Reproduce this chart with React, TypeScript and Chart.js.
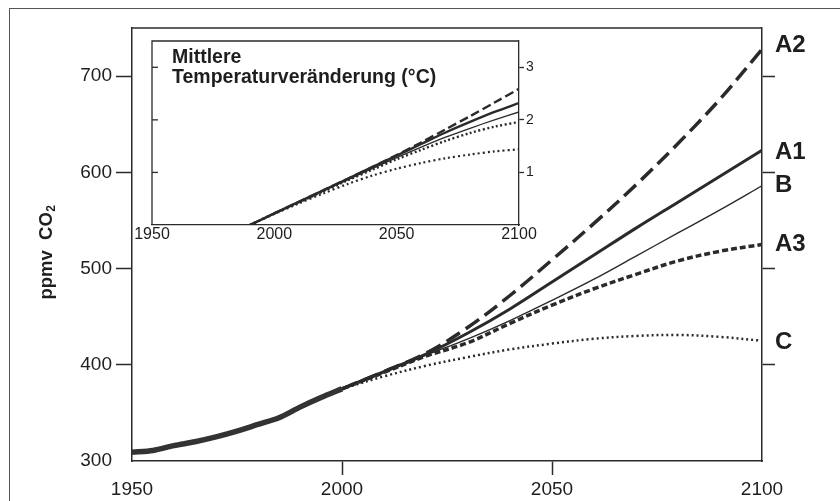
import React, { useEffect, useRef } from 'react';
import { Chart, registerables } from 'chart.js';

Chart.register(...registerables);

// ---------- data ----------
const histYears = [1950, 1955, 1960, 1965, 1970, 1975, 1980, 1985, 1990, 1995, 2000];
const histCO2 = [309, 311, 316, 320, 325, 331, 338, 345, 356, 366, 375];

const scenYears = [2000, 2010, 2020, 2030, 2040, 2050, 2060, 2070, 2080, 2090, 2100];
const co2A2 = [375, 393, 412, 439, 472, 509, 547, 587, 630, 676, 728];
const co2A1 = [375, 393, 411, 433, 458, 486, 514, 542, 569, 596, 623];
const co2B = [375, 392, 410, 427, 446, 467, 489, 513, 537, 561, 586];
const co2A3 = [375, 392, 409, 423, 443, 462, 479, 494, 508, 518, 525];
const co2C = [375, 388, 399, 408, 416, 422, 427, 430, 431, 429, 425];

const scenarioNames = ['A2', 'A1', 'B', 'A3', 'C'];

const insetYears = [1990, 2000, 2010, 2020, 2030, 2040, 2050, 2060, 2070, 2080, 2090, 2100];
const tempA2 = [0, 0.22, 0.44, 0.66, 0.88, 1.1, 1.33, 1.57, 1.82, 2.07, 2.33, 2.59];
const tempA1 = [0, 0.22, 0.44, 0.66, 0.88, 1.1, 1.32, 1.54, 1.76, 1.96, 2.15, 2.32];
const tempB = [0, 0.22, 0.44, 0.65, 0.86, 1.07, 1.28, 1.48, 1.67, 1.84, 2.0, 2.15];
const tempA3 = [0, 0.22, 0.43, 0.64, 0.85, 1.05, 1.25, 1.43, 1.6, 1.75, 1.87, 1.96];
const tempC = [0, 0.21, 0.41, 0.6, 0.78, 0.94, 1.07, 1.18, 1.27, 1.34, 1.4, 1.44];

const co2Ticks = [300, 400, 500, 600, 700];
const co2RightTicks = [400, 500, 600, 700];
const yearTicks = [1950, 2000, 2050, 2100];
const tempTicks = [1, 2, 3];

const yTitle = 'ppmv  CO';
const yTitleSub = '2';
const insetTitle = ['Mittlere', 'Temperaturveränderung (°C)'];

// ---------- styles ----------
const INK = '#2a2a2a';
const SANS = "'Liberation Sans', Arial, sans-serif";

const pts = (xs: number[], ys: number[]) => ys.map((y, i) => ({ x: xs[i], y }));

const lineStyles = [
  { borderWidth: 3.5, borderDash: [16, 7] },
  { borderWidth: 3, borderDash: [] },
  { borderWidth: 1.4, borderDash: [] },
  { borderWidth: 3.5, borderDash: [6, 3] },
  { borderWidth: 2.5, borderDash: [2, 3] },
];
const insetStyles = [
  { borderWidth: 2.4, borderDash: [9, 4] },
  { borderWidth: 2.4, borderDash: [] },
  { borderWidth: 1.3, borderDash: [] },
  { borderWidth: 2.4, borderDash: [2, 2.5] },
  { borderWidth: 2.2, borderDash: [2, 3] },
];
const labelDy = [-4, 2, 0, 0, 2];

const setTicks = (vals: number[]) => (s: any) => {
  s.ticks = vals.map((v) => ({ value: v }));
};

export default function App() {
  const mainRef = useRef<HTMLCanvasElement>(null);
  const insetRef = useRef<HTMLCanvasElement>(null);

  useEffect(() => {
    const scenData = [co2A2, co2A1, co2B, co2A3, co2C];
    const mainPlugin = {
      id: 'mainDecor',
      afterDraw(chart: any) {
        const { ctx, chartArea, scales } = chart;
        ctx.save();
        ctx.strokeStyle = INK;
        ctx.lineWidth = 1.5;
        ctx.beginPath();
        ctx.moveTo(chartArea.left, chartArea.top);
        ctx.lineTo(chartArea.right, chartArea.top);
        ctx.stroke();
        // y-axis title
        ctx.fillStyle = '#1e1e1e';
        ctx.translate(47, (chartArea.top + chartArea.bottom) / 2 + 8);
        ctx.rotate(-Math.PI / 2);
        ctx.font = `bold 18.5px ${SANS}`;
        ctx.textBaseline = 'middle';
        ctx.textAlign = 'left';
        const w = ctx.measureText(yTitle).width;
        ctx.font = `bold 12px ${SANS}`;
        const ws = ctx.measureText(yTitleSub).width;
        const x0 = -(w + ws) / 2;
        ctx.font = `bold 18.5px ${SANS}`;
        ctx.fillText(yTitle, x0, 0);
        ctx.font = `bold 12px ${SANS}`;
        ctx.fillText(yTitleSub, x0 + w + 0.5, 5);
        ctx.restore();
        // scenario labels at line ends
        ctx.save();
        ctx.fillStyle = '#1e1e1e';
        ctx.font = `bold 24px ${SANS}`;
        ctx.textBaseline = 'middle';
        ctx.textAlign = 'left';
        scenarioNames.forEach((name, i) => {
          const arr = scenData[i];
          const y = scales.y.getPixelForValue(arr[arr.length - 1]) + labelDy[i];
          ctx.fillText(name, chartArea.right + 13, y);
        });
        ctx.restore();
      },
    };

    const tickCol = (hidden: number[]) => (c: any) =>
      c.tick && hidden.includes(c.tick.value) ? 'rgba(0,0,0,0)' : INK;

    const main = new Chart(mainRef.current as HTMLCanvasElement, {
      type: 'line',
      data: {
        datasets: [
          {
            data: pts(histYears, histCO2),
            borderColor: '#333',
            borderWidth: 5.5,
            pointRadius: 0,
            tension: 0.3,
          },
          ...scenarioNames.map((n, i) => ({
            label: n,
            data: pts(scenYears, scenData[i]),
            borderColor: INK,
            borderWidth: lineStyles[i].borderWidth,
            borderDash: lineStyles[i].borderDash,
            pointRadius: 0,
            tension: 0.35,
          })),
        ],
      },
      options: {
        responsive: false,
        animation: false,
        layout: { padding: { left: 0, right: 0, top: 28, bottom: 0 } },
        plugins: { legend: { display: false }, tooltip: { enabled: false } },
        scales: {
          x: {
            type: 'linear',
            min: 1950,
            max: 2100,
            afterBuildTicks: setTicks(yearTicks),
            afterFit: (s: any) => {
              s.height = 40;
              s.paddingLeft = 0;
              s.paddingRight = 0;
            },
            grid: {
              drawOnChartArea: false,
              drawTicks: true,
              tickLength: 14,
              tickWidth: 1.5,
              tickColor: tickCol([1950, 2100]),
            },
            border: { display: true, color: INK, width: 1.5 },
            ticks: {
              font: { family: SANS, size: 19 },
              color: '#1e1e1e',
              padding: 3,
              maxRotation: 0,
              autoSkip: false,
              callback: (v: any) => String(v),
            },
          },
          y: {
            position: 'left',
            min: 300,
            max: 750,
            afterBuildTicks: setTicks(co2Ticks),
            afterFit: (s: any) => {
              s.width = 132;
              s.paddingTop = 0;
              s.paddingBottom = 0;
            },
            grid: {
              drawOnChartArea: false,
              drawTicks: true,
              tickLength: 16,
              tickWidth: 1.5,
              tickColor: tickCol([300]),
            },
            border: { display: true, color: INK, width: 1.5 },
            ticks: {
              font: { family: SANS, size: 19 },
              color: '#1e1e1e',
              padding: 4,
              autoSkip: false,
              callback: (v: any) => String(v),
            },
          },
          y2: {
            position: 'right',
            min: 300,
            max: 750,
            afterBuildTicks: setTicks(co2RightTicks),
            afterFit: (s: any) => {
              s.width = 78;
            },
            grid: {
              drawOnChartArea: false,
              drawTicks: true,
              tickLength: 13,
              tickWidth: 1.5,
              tickColor: INK,
            },
            border: { display: true, color: INK, width: 1.5 },
            ticks: { display: false },
          },
        },
      },
      plugins: [mainPlugin],
    } as any);

    const tempData = [tempA2, tempA1, tempB, tempA3, tempC];
    const insetPlugin = {
      id: 'insetDecor',
      afterDraw(chart: any) {
        const { ctx, chartArea, scales } = chart;
        ctx.save();
        ctx.strokeStyle = INK;
        ctx.lineWidth = 1.3;
        ctx.beginPath();
        ctx.moveTo(chartArea.left, chartArea.bottom);
        ctx.lineTo(chartArea.left, chartArea.top);
        ctx.lineTo(chartArea.right, chartArea.top);
        ctx.stroke();
        tempTicks.forEach((v) => {
          const y = scales.y.getPixelForValue(v);
          ctx.beginPath();
          ctx.moveTo(chartArea.left, y);
          ctx.lineTo(chartArea.left + 6, y);
          ctx.stroke();
        });
        ctx.fillStyle = '#1e1e1e';
        ctx.font = `bold 19.5px ${SANS}`;
        ctx.textBaseline = 'alphabetic';
        ctx.textAlign = 'left';
        ctx.fillText(insetTitle[0], chartArea.left + 20, chartArea.top + 22);
        ctx.fillText(insetTitle[1], chartArea.left + 20, chartArea.top + 42);
        ctx.restore();
      },
    };

    const inset = new Chart(insetRef.current as HTMLCanvasElement, {
      type: 'line',
      data: {
        datasets: scenarioNames.map((n, i) => ({
          label: n,
          data: pts(insetYears, tempData[i]),
          borderColor: INK,
          borderWidth: insetStyles[i].borderWidth,
          borderDash: insetStyles[i].borderDash,
          pointRadius: 0,
          tension: 0.3,
        })),
      },
      options: {
        responsive: false,
        animation: false,
        layout: { padding: { left: 27, right: 0, top: 11, bottom: 0 } },
        plugins: { legend: { display: false }, tooltip: { enabled: false } },
        scales: {
          x: {
            type: 'linear',
            min: 1950,
            max: 2100,
            afterBuildTicks: setTicks(yearTicks),
            afterFit: (s: any) => {
              s.height = 25;
              s.paddingLeft = 0;
              s.paddingRight = 0;
            },
            grid: { drawOnChartArea: false, drawTicks: false },
            border: { display: true, color: INK, width: 1.3 },
            ticks: {
              font: { family: SANS, size: 16 },
              color: '#1e1e1e',
              padding: 0,
              maxRotation: 0,
              autoSkip: false,
              callback: (v: any) => String(v),
            },
          },
          y: {
            position: 'right',
            min: 0,
            max: 3.5,
            afterBuildTicks: setTicks(tempTicks),
            afterFit: (s: any) => {
              s.width = 31;
              s.paddingTop = 0;
              s.paddingBottom = 0;
            },
            grid: {
              drawOnChartArea: false,
              drawTicks: true,
              tickLength: 5,
              tickWidth: 1.3,
              tickColor: INK,
            },
            border: { display: true, color: INK, width: 1.3 },
            ticks: {
              font: { family: SANS, size: 14 },
              color: '#1e1e1e',
              padding: 2,
              autoSkip: false,
              callback: (v: any) => String(v),
            },
          },
        },
      },
      plugins: [insetPlugin],
    } as any);

    return () => {
      main.destroy();
      inset.destroy();
    };
  }, []);

  return (
    <div style={{ position: 'absolute', left: 0, top: 0, width: 840, height: 501, background: '#fff', overflow: 'hidden' }}>
      <div
        style={{
          position: 'absolute',
          left: 9,
          top: 8,
          width: 840,
          height: 500,
          borderLeft: '1.5px solid #555',
          borderTop: '1.5px solid #555',
        }}
      />
      <canvas ref={mainRef} width={840} height={501} style={{ position: 'absolute', left: 0, top: 0, display: 'block' }} />
      <canvas ref={insetRef} width={425} height={220} style={{ position: 'absolute', left: 125, top: 30, display: 'block' }} />
    </div>
  );
}
